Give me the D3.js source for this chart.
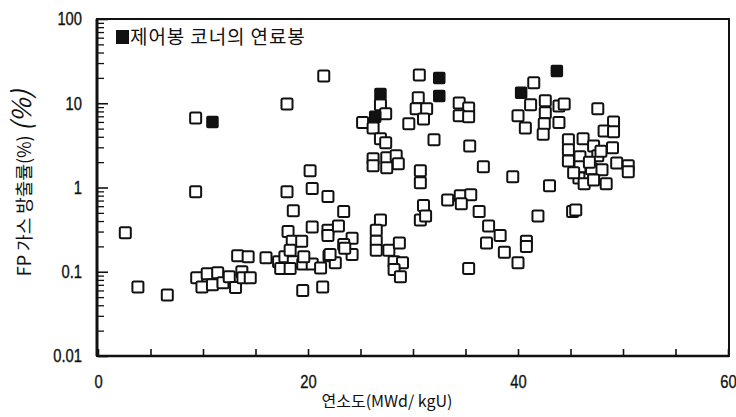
<!DOCTYPE html>
<html>
<head>
<meta charset="utf-8">
<script src="https://cdn.jsdelivr.net/npm/d3@7"></script>
<style>
  html, body { margin: 0; padding: 0; background: #fff; }
  svg { display: block; }
  .num { font-family: 'Liberation Sans', Arial, sans-serif; font-size: 18px; fill: #111; stroke: #111; stroke-width: 0.35px; }
  .kr { font-family: 'Noto Sans CJK KR', sans-serif; fill: #111; }
</style>
</head>
<body>
<svg id="chart" width="736" height="417"></svg>
<script>
// Burnup (MWd/kgU) and fission-gas release (%) for ordinary fuel rods
const openBurnup = [
  2.6, 3.8, 6.6, 9.3, 9.3, 9.4, 9.9, 10.4, 10.9, 11.4, 11.9, 12.5, 13.1, 13.7, 13.8, 14.5,
  13.3, 14.3, 16.0, 17.2, 17.4, 17.8, 18.6, 18.3, 19.5, 20.4, 21.2, 18.0, 18.0, 18.6,
  18.1, 18.5, 19.4, 19.5, 21.4, 18.3, 20.2, 20.4, 21.9, 23.4, 20.4, 21.9, 21.9, 22.9,
  24.2, 23.4, 22.0, 19.6, 22.6, 24.2, 23.5, 22.1, 21.5,
  25.2, 26.9, 27.4, 26.2, 26.9, 27.4, 26.2, 26.2, 27.5, 28.4, 28.6, 27.5, 26.9, 26.5,
  26.5, 26.5, 27.7, 28.7, 28.2, 29.0, 28.2, 28.8,
  30.6, 30.5, 30.3, 31.3, 31.0, 29.6, 32.0, 30.7, 30.7, 31.0, 30.7, 31.2,
  34.4, 35.3, 34.4, 35.3, 35.4, 36.7, 33.3, 34.5, 35.5, 34.6, 36.3, 37.2, 38.3, 37.0,
  38.7, 40.0, 35.3, 39.5, 40.8, 40.8, 41.9,
  41.5, 41.2, 42.6, 42.6, 43.9, 44.4, 40.0, 40.7, 42.5, 42.4, 43.9, 47.6, 49.1, 48.2,
  49.1, 49.0, 44.8, 46.2, 47.2, 44.8, 45.9, 47.6, 44.8, 49.4, 50.5, 50.5, 45.9, 47.0,
  48.0, 45.8, 46.3, 47.2, 48.4, 43.0, 45.2, 45.5, 46.8, 47.9, 45.3
];
const openRelease = [
  0.29, 0.066, 0.053, 0.89, 6.7, 0.085, 0.066, 0.095, 0.070, 0.097, 0.074, 0.087, 0.065, 0.100, 0.085, 0.085,
  0.155, 0.151, 0.147, 0.131, 0.109, 0.151, 0.131, 0.109, 0.124, 0.124, 0.111, 0.89, 9.8, 0.53,
  0.30, 0.23, 0.23, 0.060, 0.066, 0.18, 1.58, 0.97, 0.78, 0.52, 0.34, 0.31, 0.27, 0.35,
  0.25, 0.21, 0.155, 0.151, 0.128, 0.16, 0.19, 0.16, 21.1,
  5.9, 9.6, 7.5, 5.1, 3.8, 3.4, 2.19, 1.81, 2.25, 2.38, 1.91, 1.71, 0.41, 0.31,
  0.23, 0.18, 0.18, 0.22, 0.131, 0.128, 0.106, 0.087,
  21.7, 11.6, 8.6, 8.6, 6.5, 5.7, 3.7, 1.58, 1.14, 0.61, 0.41, 0.46,
  10.1, 8.8, 7.1, 6.9, 3.1, 1.76, 0.71, 0.80, 0.82, 0.64, 0.52, 0.35, 0.27, 0.22,
  0.17, 0.128, 0.109, 1.34, 0.23, 0.20, 0.46,
  17.5, 9.6, 10.7, 7.7, 9.3, 9.8, 7.1, 5.1, 5.7, 4.3, 5.9, 8.6, 6.0, 4.7,
  4.6, 2.96, 3.7, 3.8, 3.1, 2.8, 2.31, 2.38, 2.07, 1.96, 1.81, 1.54, 1.76, 1.67,
  1.62, 1.30, 1.11, 1.23, 1.11, 1.05, 0.52, 0.54, 2.0, 2.7, 1.5
];

// Fuel rods at control-rod corners
const cornerBurnup  = [10.9, 26.9, 26.4, 32.5, 32.5, 40.3, 43.7];
const cornerRelease = [6.0, 12.9, 6.9, 20.0, 12.2, 13.3, 24.2];

const xTicks = [0, 5, 10, 15, 20, 25, 30, 35, 40, 45, 50, 55, 60];
const xLabels = [0, 20, 40, 60];
const yMajor = [0.01, 0.1, 1, 10, 100];
const yLabels = ["0.01", "0.1", "1", "10", "100"];

const legendText = "제어봉 코너의 연료봉";
const xTitle = "연소도(MWd/ kgU)";
const yTitleMain = "FP 가스 방출률(%) ";
const yTitleTail = "(%)";

const svg = d3.select("#chart");
const plotLeft = 98, plotRight = 728, plotTop = 19, plotBottom = 356;
const narrow = 0.82; // horizontal squeeze for the condensed numerals

const x = d3.scaleLinear().domain([0, 60]).range([plotLeft, plotRight]);
const y = d3.scaleLog().domain([0.01, 100]).range([plotBottom, plotTop]);

// minor log ticks 2..9 within each decade
const yMinor = [];
yMajor.slice(0, -1).forEach(d => { for (let k = 2; k <= 9; k++) yMinor.push(d * k); });

// x axis: inward ticks every 5, labels every 20
const xAxis = d3.axisBottom(x)
  .tickValues(xTicks)
  .tickSizeInner(-7).tickSizeOuter(0)
  .tickPadding(19)
  .tickFormat(d => xLabels.includes(d) ? String(d) : "");
const gx = svg.append("g").attr("transform", `translate(0,${plotBottom})`).call(xAxis);
gx.select(".domain").remove();
gx.selectAll(".tick line").attr("stroke", "#111").attr("stroke-width", 1.6);
gx.selectAll(".tick text").attr("class", "num").attr("transform", `scale(${narrow},1)`);

// y axis: major ticks with labels
const yAxis = d3.axisLeft(y)
  .tickValues(yMajor)
  .tickSizeInner(-10).tickSizeOuter(0)
  .tickPadding(15)
  .tickFormat((d, i) => yLabels[i]);
const gy = svg.append("g").attr("transform", `translate(${plotLeft},0)`).call(yAxis);
gy.select(".domain").remove();
gy.selectAll(".tick line").attr("stroke", "#111").attr("stroke-width", 1.6);
gy.selectAll(".tick text").attr("class", "num")
  .attr("x", 0).attr("transform", `translate(-16,0) scale(${narrow},1)`);

// y axis: minor ticks
const yAxisMinor = d3.axisLeft(y)
  .tickValues(yMinor)
  .tickSizeInner(-6).tickSizeOuter(0)
  .tickFormat("");
const gym = svg.append("g").attr("transform", `translate(${plotLeft},0)`).call(yAxisMinor);
gym.select(".domain").remove();
gym.selectAll(".tick line").attr("stroke", "#111").attr("stroke-width", 1.3);

// frame
svg.append("rect")
  .attr("x", plotLeft - 1).attr("y", plotTop)
  .attr("width", plotRight - plotLeft + 2).attr("height", plotBottom - plotTop)
  .attr("fill", "none").attr("stroke", "#111").attr("stroke-width", 2);
svg.append("line")
  .attr("x1", plotLeft - 1).attr("x2", plotLeft - 1).attr("y1", plotTop).attr("y2", plotBottom)
  .attr("stroke", "#111").attr("stroke-width", 3);
svg.append("line")
  .attr("x1", plotLeft - 1).attr("x2", plotRight + 1).attr("y1", plotBottom).attr("y2", plotBottom)
  .attr("stroke", "#111").attr("stroke-width", 2.6);

// markers
const size = 11;
const openData = openBurnup.map((b, i) => ({ b, r: openRelease[i] }));
const cornerData = cornerBurnup.map((b, i) => ({ b, r: cornerRelease[i] }));

svg.append("g").selectAll("rect").data(openData).join("rect")
  .attr("x", d => x(d.b) - size / 2).attr("y", d => y(d.r) - size / 2)
  .attr("width", size).attr("height", size).attr("rx", 1.5)
  .attr("fill", "#fff").attr("stroke", "#111").attr("stroke-width", 2);

svg.append("g").selectAll("rect").data(cornerData).join("rect")
  .attr("x", d => x(d.b) - size / 2).attr("y", d => y(d.r) - size / 2)
  .attr("width", size).attr("height", size).attr("rx", 1)
  .attr("fill", "#111").attr("stroke", "#111").attr("stroke-width", 1.5);

// legend
svg.append("rect").attr("x", 116).attr("y", 30).attr("width", 13).attr("height", 14).attr("fill", "#111");
svg.append("text").attr("class", "kr").attr("x", 130).attr("y", 44)
  .attr("font-size", 19).attr("letter-spacing", 0.9).text(legendText);

// axis titles
svg.append("text").attr("class", "kr").attr("x", 387).attr("y", 407)
  .attr("text-anchor", "middle").attr("font-size", 16).text(xTitle);

const yt = svg.append("text").attr("class", "kr")
  .attr("transform", "translate(31,183) rotate(-90)")
  .attr("text-anchor", "middle").attr("font-size", 18);
yt.append("tspan").text(yTitleMain);
yt.append("tspan").attr("font-size", 26).attr("font-style", "italic").text(yTitleTail);
</script>
</body>
</html>
